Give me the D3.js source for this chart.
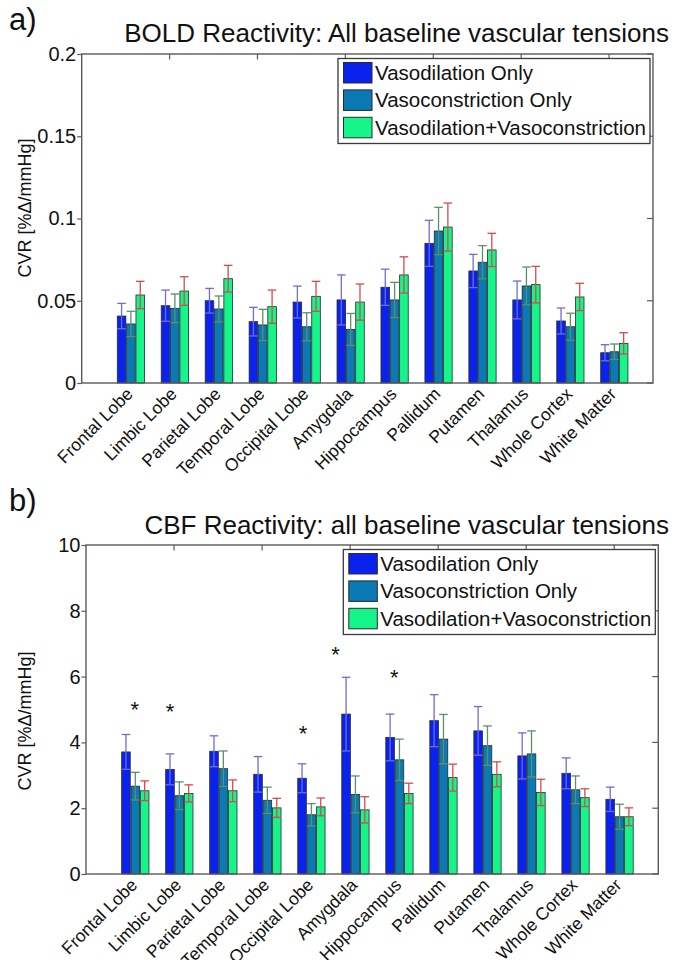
<!DOCTYPE html>
<html>
<head>
<meta charset="utf-8">
<script src="https://cdn.jsdelivr.net/npm/d3@7"></script>
<style>
  html, body { margin: 0; padding: 0; background: #fff; }
  svg { display: block; font-family: "Liberation Sans", Arial, Helvetica, sans-serif; }
</style>
</head>
<body>
<svg id="chart" width="674" height="960"></svg>
<script>
// ---------------- DATA ----------------
const categories = ["Frontal Lobe", "Limbic Lobe", "Parietal Lobe", "Temporal Lobe", "Occipital Lobe",
  "Amygdala", "Hippocampus", "Pallidum", "Putamen", "Thalamus", "Whole Cortex", "White Matter"];
const seriesNames = ["Vasodilation Only", "Vasoconstriction Only", "Vasodilation+Vasoconstriction"];

// Panel a) BOLD reactivity
const boldDil    = [0.0407, 0.0470, 0.0500, 0.0373, 0.0492, 0.0505, 0.0582, 0.0849, 0.0681, 0.0505, 0.0377, 0.0184];
const boldDilErr = [0.0077, 0.0095, 0.0075, 0.0087, 0.0097, 0.0152, 0.0110, 0.0140, 0.0101, 0.0115, 0.0079, 0.0049];
const boldCon    = [0.0359, 0.0454, 0.0450, 0.0353, 0.0342, 0.0326, 0.0505, 0.0924, 0.0734, 0.0590, 0.0342, 0.0190];
const boldConErr = [0.0077, 0.0087, 0.0079, 0.0095, 0.0085, 0.0097, 0.0107, 0.0144, 0.0101, 0.0115, 0.0082, 0.0047];
const boldBoth   = [0.0535, 0.0559, 0.0634, 0.0464, 0.0527, 0.0492, 0.0657, 0.0948, 0.0809, 0.0598, 0.0523, 0.0241];
const boldBothErr= [0.0083, 0.0087, 0.0081, 0.0101, 0.0091, 0.0110, 0.0110, 0.0146, 0.0101, 0.0111, 0.0083, 0.0065];
const boldTicks = [0, 0.05, 0.1, 0.15, 0.2];
const boldTickLabels = ["0", "0.05", "0.1", "0.15", "0.2"];

// Panel b) CBF reactivity
const cbfDil     = [3.71, 3.18, 3.73, 3.03, 2.91, 4.86, 4.15, 4.66, 4.35, 3.59, 3.06, 2.27];
const cbfDilErr  = [0.53, 0.47, 0.47, 0.54, 0.44, 1.12, 0.71, 0.79, 0.74, 0.70, 0.47, 0.37];
const cbfCon     = [2.67, 2.38, 3.20, 2.24, 1.80, 2.42, 3.47, 4.10, 3.90, 3.65, 2.56, 1.74];
const cbfConErr  = [0.42, 0.42, 0.54, 0.40, 0.34, 0.56, 0.63, 0.75, 0.60, 0.70, 0.42, 0.38];
const cbfBoth    = [2.53, 2.45, 2.53, 2.01, 2.04, 1.95, 2.45, 2.93, 3.03, 2.48, 2.32, 1.74];
const cbfBothErr = [0.30, 0.26, 0.33, 0.29, 0.27, 0.40, 0.31, 0.41, 0.38, 0.40, 0.27, 0.27];
const cbfTicks = [0, 2, 4, 6, 8, 10];
const cbfTickLabels = ["0", "2", "4", "6", "8", "10"];
// significance markers (x in axis units, y in data units)
const cbfStarX = [1.11, 1.91, 4.93, 5.67, 7.0];
const cbfStarY = [5.14, 5.07, 4.41, 6.81, 6.12];

const xTopTicks = [2, 4, 6, 8, 10, 12];

// ---------------- STYLE ----------------
const barColors = ["#0a22ee", "#0b79b3", "#16f58a"];
const errColors = ["#6d6dd6", "#5a9266", "#d64a4a"];
const axisColor = "#5a5a5a";
const GROUP_SHIFT = 0.12;

const svg = d3.select("#chart");

function drawPanel(cfg) {
  const g = svg.append("g");
  const x = d3.scaleLinear().domain([0, 13]).range([cfg.left, cfg.right]);
  const y = d3.scaleLinear().domain([0, cfg.yMax]).range([cfg.bottom, cfg.top]);
  const sub = d3.scaleBand().domain([0, 1, 2]).range([-0.327, 0.327]).padding(0.08);

  const series = cfg.values.map((vals, k) => ({ k, vals, errs: cfg.errors[k] }));

  // bars + error bars
  categories.forEach((cat, i) => {
    const c = i + 1 + GROUP_SHIFT;
    series.forEach(s => {
      const x0 = x(c + sub(s.k)), x1 = x(c + sub(s.k) + sub.bandwidth());
      const v = s.vals[i];
      g.append("rect")
        .attr("x", x0).attr("y", y(v))
        .attr("width", x1 - x0).attr("height", y(0) - y(v))
        .attr("fill", barColors[s.k])
        .attr("stroke", "#2a2a2a").attr("stroke-width", 0.8);
    });
    series.forEach(s => {
      const x0 = x(c + sub(s.k)), x1 = x(c + sub(s.k) + sub.bandwidth());
      const xm = (x0 + x1) / 2;
      const v = s.vals[i], e = s.errs[i];
      const eg = g.append("g").attr("stroke", errColors[s.k]).attr("stroke-width", 1.3);
      eg.append("line").attr("x1", xm).attr("x2", xm).attr("y1", y(v - e)).attr("y2", y(v + e));
      eg.append("line").attr("x1", x0).attr("x2", x1).attr("y1", y(v + e)).attr("y2", y(v + e));
      eg.append("line").attr("x1", x0).attr("x2", x1).attr("y1", y(v - e)).attr("y2", y(v - e));
    });
  });

  // axis box
  g.append("rect")
    .attr("x", cfg.left).attr("y", cfg.top)
    .attr("width", cfg.right - cfg.left).attr("height", cfg.bottom - cfg.top)
    .attr("fill", "none").attr("stroke", axisColor).attr("stroke-width", 1.4);

  // left axis
  const ax = g.append("g").attr("transform", `translate(${cfg.left},0)`)
    .call(d3.axisLeft(y).tickValues(cfg.ticks).tickSize(4.5).tickPadding(1)
      .tickFormat((d, i) => cfg.tickLabels[i]));
  ax.select(".domain").remove();
  ax.selectAll(".tick line").attr("stroke", axisColor).attr("stroke-width", 1.2);
  ax.selectAll(".tick text").attr("fill", "#111").style("font-size", "20px")
    .style("font-family", "'Liberation Sans', Arial, sans-serif");

  // right inward ticks
  g.append("g").selectAll("line").data(cfg.ticks).join("line")
    .attr("x1", cfg.right - 6).attr("x2", cfg.right)
    .attr("y1", d => y(d)).attr("y2", d => y(d))
    .attr("stroke", axisColor).attr("stroke-width", 1.2);

  // top inward ticks
  g.append("g").selectAll("line").data(xTopTicks).join("line")
    .attr("x1", d => x(d)).attr("x2", d => x(d))
    .attr("y1", cfg.top).attr("y2", cfg.top + 5.5)
    .attr("stroke", axisColor).attr("stroke-width", 1.2);

  // x category labels
  g.append("g").selectAll("text").data(categories).join("text")
    .attr("transform", (d, i) => `translate(${x(i + 1 + GROUP_SHIFT) + 3},${cfg.bottom + 12}) rotate(-45)`)
    .attr("text-anchor", "end")
    .style("font-size", "17.5px").attr("fill", "#111")
    .text(d => d);

  // y label
  g.append("text")
    .attr("transform", `translate(31,${cfg.ylabelY}) rotate(-90)`)
    .attr("text-anchor", "middle")
    .style("font-size", "18px").attr("fill", "#111")
    .text("CVR [%\u0394/mmHg]");

  // title + panel tag
  g.append("text").attr("x", 669).attr("y", cfg.titleY).attr("text-anchor", "end")
    .style("font-size", "26px").attr("fill", "#111").text(cfg.title);
  g.append("text").attr("x", 9).attr("y", cfg.tagY)
    .style("font-size", "31px").attr("fill", "#111").text(cfg.tag);

  // stars
  if (cfg.starX) {
    g.append("g").selectAll("text").data(cfg.starX).join("text")
      .attr("x", d => x(d))
      .attr("y", (d, i) => y(cfg.starY[i]) + 12)
      .attr("text-anchor", "middle")
      .style("font-size", "22px").attr("fill", "#111")
      .text("*");
  }

  // legend
  const lw = 312, lh = 85;
  const lx = cfg.right - 3 - lw, ly = cfg.top + 4.5;
  const clipId = "clip" + cfg.tag.replace(")", "");
  g.append("clipPath").attr("id", clipId).append("rect")
    .attr("x", lx).attr("y", ly).attr("width", lw - 5).attr("height", lh);
  const lg = g.append("g");
  lg.append("rect").attr("x", lx).attr("y", ly).attr("width", lw).attr("height", lh)
    .attr("fill", "#fff").attr("stroke", "#3a3a3a").attr("stroke-width", 1.3);
  seriesNames.forEach((name, k) => {
    const sy = ly + 4 + k * 27.4;
    lg.append("rect").attr("x", lx + 5.5).attr("y", sy).attr("width", 28.5).attr("height", 20.5)
      .attr("fill", barColors[k]).attr("stroke", "#2a2a2a").attr("stroke-width", 1);
    lg.append("text").attr("x", lx + 37).attr("y", sy + 17.5)
      .attr("clip-path", `url(#${clipId})`)
      .style("font-size", "20.5px").attr("fill", "#111").text(name);
  });
}

drawPanel({
  left: 81.7, right: 653, top: 54, bottom: 383,
  yMax: 0.2, ticks: boldTicks, tickLabels: boldTickLabels,
  values: [boldDil, boldCon, boldBoth], errors: [boldDilErr, boldConErr, boldBothErr],
  title: "BOLD Reactivity: All baseline vascular tensions", titleY: 42,
  tag: "a)", tagY: 30, ylabelY: 208
});

drawPanel({
  left: 86, right: 658.3, top: 545, bottom: 874,
  yMax: 10, ticks: cbfTicks, tickLabels: cbfTickLabels,
  values: [cbfDil, cbfCon, cbfBoth], errors: [cbfDilErr, cbfConErr, cbfBothErr],
  title: "CBF Reactivity: all baseline vascular tensions", titleY: 534,
  tag: "b)", tagY: 511, ylabelY: 721,
  starX: cbfStarX, starY: cbfStarY
});
</script>
</body>
</html>
